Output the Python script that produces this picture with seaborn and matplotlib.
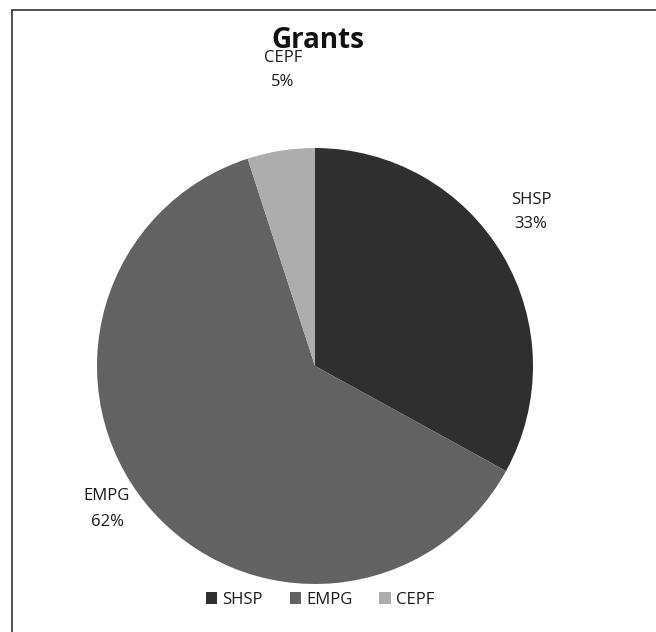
import matplotlib
matplotlib.use("Agg")
import matplotlib.pyplot as plt
import matplotlib.lines as mlines
import matplotlib.patches as mpatches
import seaborn as sns

# Grant shares (percent)
categories = ["SHSP", "EMPG", "CEPF"]
shares = [33, 62, 5]
title = "Grants"

sns.set_theme(style="white")
plt.rcParams["font.family"] = ["Open Sans", "DejaVu Sans"]

colors = ["#2f2f2f", "#626262", "#adadad"]

W, H = 656, 632
fig = plt.figure(figsize=(W / 100, H / 100), dpi=100)
fig.patch.set_facecolor("white")

# chart frame: top and left edges
fig.add_artist(mlines.Line2D([12 / W, 1], [1 - 10 / H, 1 - 10 / H], color="#333333", lw=1.2))
fig.add_artist(mlines.Line2D([12 / W, 12 / W], [0, 1 - 10 / H], color="#333333", lw=1.2))

cx, cy, r = 315, 366, 218
ax = fig.add_axes([(cx - r) / W, (H - cy - r) / H, 2 * r / W, 2 * r / H])
wedges, _ = ax.pie(shares, colors=colors, startangle=90, counterclock=False,
                   radius=1.0, wedgeprops=dict(linewidth=0))
ax.set_xlim(-1, 1)
ax.set_ylim(-1, 1)
ax.set_aspect("equal")
ax.axis("off")

# data labels placed around the pie
label_pos = {"SHSP": (531, 212), "EMPG": (107, 509), "CEPF": (283, 70)}
for cat, val in zip(categories, shares):
    px, py = label_pos[cat]
    fig.text(px / W, 1 - py / H, f"{cat}\n{val}%", ha="center", va="center",
             fontsize=12, color="#1a1a1a", linespacing=1.75)

fig.text(318 / W, 1 - 40 / H, title, ha="center", va="center",
         fontsize=20, fontweight="bold", color="#111111")

handles = [mpatches.Patch(facecolor=c, edgecolor="none", label=l) for c, l in zip(colors, categories)]
fig.legend(handles=handles, loc="center", bbox_to_anchor=(320 / W, 1 - 600 / H),
           ncol=3, frameon=False, fontsize=12, handlelength=0.7, handleheight=0.7,
           handletextpad=0.3, columnspacing=1.6, labelcolor="#1a1a1a")

fig.savefig("out.png", dpi=100)
